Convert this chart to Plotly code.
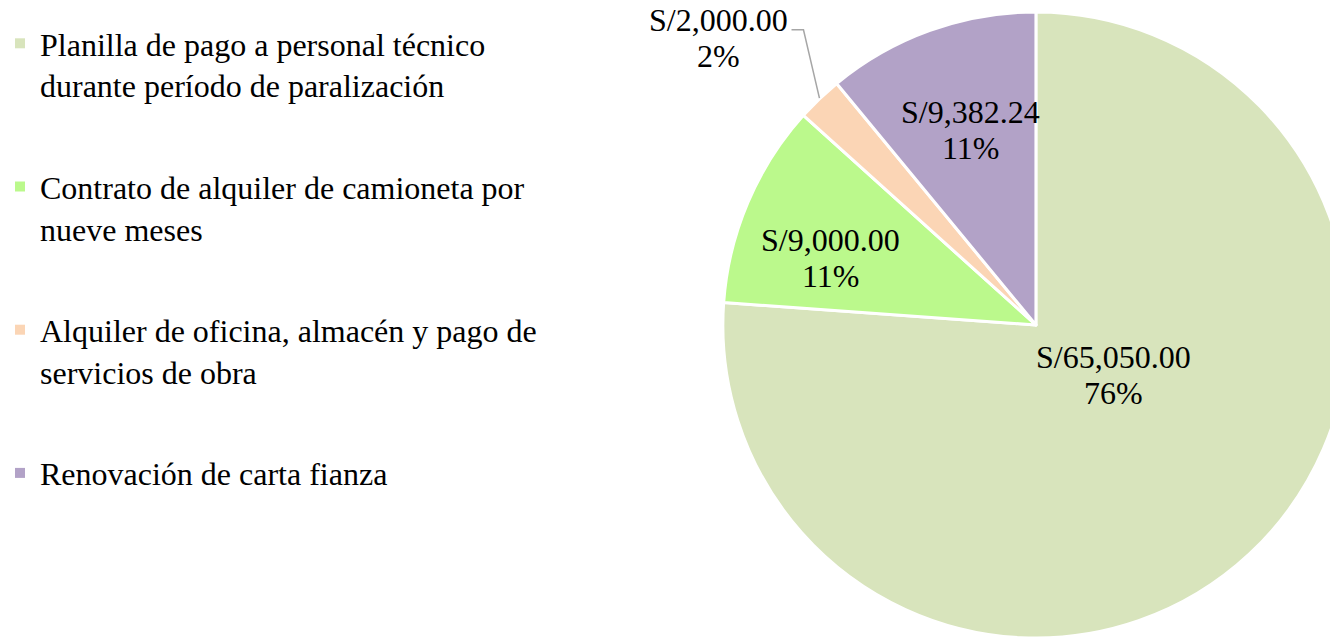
import math
import plotly.graph_objects as go

labels = [
    "Planilla de pago a personal técnico<br>durante período de paralización",
    "Contrato de alquiler de camioneta por<br>nueve meses",
    "Alquiler de oficina, almacén y pago de<br>servicios de obra",
    "Renovación de carta fianza",
]
values = [65050.00, 9000.00, 2000.00, 9382.24]
colors = ["#D8E4BC", "#BBF98C", "#FBD5B5", "#B2A2C7"]

# label placement (layout only): radial fraction of radius, angular tweak in degrees
label_radius = [0.295, 0.69, 1.366, 0.656]
label_angle_shift = [-14.1, -5.1, -4.2, 1.3]
leader_line = [False, False, True, False]

W, H = 1350, 639
FONT = "Liberation Serif, Times New Roman, serif"
CX, CY, R = 1035.0, 325.0, 314.0   # pie centre / radius in pixels

fig = go.Figure()
fig.add_trace(go.Pie(
    labels=labels,
    values=values,
    sort=False,
    direction="clockwise",
    rotation=0,
    marker=dict(colors=colors, line=dict(color="white", width=3)),
    textinfo="none",
    showlegend=False,
    hoverinfo="label+value+percent",
    domain=dict(x=[(CX - R) / W, (CX + R) / W], y=[(H - CY - R) / H, (H - CY + R) / H]),
))

# legend entries, one per slice, matching slice colours
for lab, col in zip(labels, colors):
    fig.add_trace(go.Scatter(
        x=[None], y=[None], mode="markers", name=lab, legendgroup=lab,
        marker=dict(symbol="square", size=10, color=col),
        showlegend=True, hoverinfo="skip",
    ))

# data labels, positioned from the slice angles
total = sum(values)
cum = 0.0
annotations = []
shapes = []
for v, f, shift, lead in zip(values, label_radius, label_angle_shift, leader_line):
    mid = (cum + v / 2) / total * 360.0
    cum += v
    th = math.radians(mid + shift)
    lx = CX + f * R * math.sin(th)
    ly = CY - f * R * math.cos(th)
    val_txt = f"S/{v:,.2f}"
    pct_txt = f"{round(v / total * 100):.0f}%"
    for txt, yy in ((val_txt, ly - 18), (pct_txt, ly + 18)):
        annotations.append(dict(
            text=txt, x=lx / W, y=1 - yy / H, xref="paper", yref="paper",
            xanchor="center", yanchor="middle", showarrow=False,
            font=dict(family=FONT, size=32, color="black"),
        ))
    if lead:
        thm = math.radians(mid)
        ex = CX + R * math.sin(thm)
        ey = CY - R * math.cos(thm)
        half_w = 0.5 * 4.334 * 32   # half width of the value text
        x0 = lx + half_w + 4
        y0 = ly - 18 + 10
        x1 = x0 + 12
        path = f"M {x0 / W} {1 - y0 / H} L {x1 / W} {1 - y0 / H} L {ex / W} {1 - ey / H}"
        shapes.append(dict(type="path", xref="paper", yref="paper", path=path,
                           line=dict(color="#A6A6A6", width=1.5)))

fig.update_layout(
    width=W, height=H,
    margin=dict(l=0, r=0, t=0, b=0),
    paper_bgcolor="white", plot_bgcolor="white",
    xaxis=dict(visible=False), yaxis=dict(visible=False),
    font=dict(family=FONT, size=32, color="black"),
    legend=dict(
        x=-0.003, y=1 - 16 / H, xanchor="left", yanchor="top",
        traceorder="grouped", tracegroupgap=57, valign="top",
        font=dict(family=FONT, size=32, color="black"),
        bgcolor="rgba(0,0,0,0)",
    ),
    annotations=annotations,
    shapes=shapes,
)

fig.write_html(
    "out.html",
    config={"displayModeBar": False},
    post_script="document.body.style.margin='0';document.body.style.overflow='hidden';",
)
